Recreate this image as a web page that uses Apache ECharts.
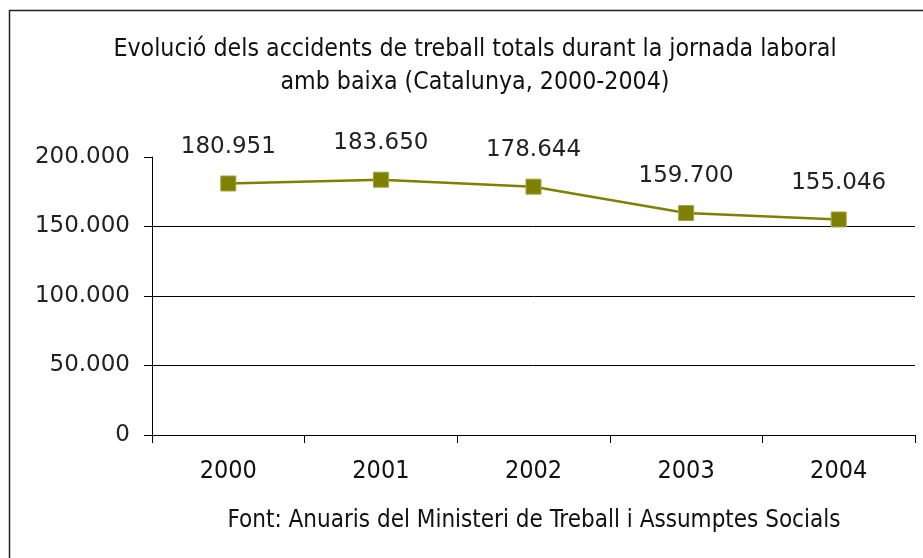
<!DOCTYPE html>
<html>
<head>
<meta charset="utf-8">
<script src="https://cdn.jsdelivr.net/npm/echarts@6/dist/echarts.min.js"></script>
<style>
  html, body { margin: 0; padding: 0; background: #fff; }
  #chart { width: 923px; height: 558px; }
</style>
</head>
<body>
<div id="chart"></div>
<script>
var anys = ["2000", "2001", "2002", "2003", "2004"];
var accidents = [180951, 183650, 178644, 159700, 155046];
var titol = "Evolució dels accidents de treball totals durant la jornada laboral\namb baixa (Catalunya, 2000-2004)";
var font = "Font: Anuaris del Ministeri de Treball i Assumptes Socials";

var estret = "'DejaVu Sans Condensed', Roboto, sans-serif";

// format amb punt de milers
function milers(v) {
  return String(v).replace(/\B(?=(\d{3})+(?!\d))/g, ".");
}

var myChart = echarts.init(document.getElementById("chart"));
myChart.setOption({
  animation: false,
  backgroundColor: "#fff",
  title: {
    text: titol,
    left: 470,
    top: 28,
    textAlign: "center",
    textStyle: {
      fontFamily: estret,
      fontSize: 24.7,
      fontWeight: "normal",
      color: "#111",
      lineHeight: 33
    }
  },
  graphic: [
    {
      type: "rect",
      shape: { x: 9.5, y: 10.5, width: 940, height: 600 },
      style: { fill: "none", stroke: "#222", lineWidth: 1.5 },
      silent: true
    },
    {
      type: "text",
      x: 534,
      y: 521,
      style: {
        text: font,
        fontFamily: estret,
        fontSize: 24,
        fill: "#111",
        align: "center",
        verticalAlign: "middle"
      }
    }
  ],
  grid: {
    left: 152,
    right: 8,
    top: 157,
    bottom: 123
  },
  xAxis: {
    type: "category",
    data: anys,
    boundaryGap: true,
    axisLine: { lineStyle: { color: "#000", width: 1 } },
    axisTick: { show: true, length: 8, interval: 0, lineStyle: { color: "#000" } },
    axisLabel: {
      margin: 24,
      fontFamily: estret,
      fontSize: 25,
      color: "#111"
    }
  },
  yAxis: {
    type: "value",
    min: 0,
    max: 200000,
    interval: 50000,
    axisLine: { show: true, lineStyle: { color: "#000", width: 1 } },
    axisTick: { show: true, length: 8, lineStyle: { color: "#000" } },
    axisLabel: {
      margin: 22,
      fontFamily: "DejaVu Sans",
      fontSize: 23,
      color: "#222",
      formatter: function (v) { return milers(v); }
    },
    splitLine: {
      show: true,
      lineStyle: { color: ["#000", "#000", "#000", "#000", "rgba(0,0,0,0)"], width: 1 }
    }
  },
  series: [
    {
      type: "line",
      data: accidents,
      symbol: "rect",
      symbolSize: 15,
      lineStyle: { color: "#808000", width: 2.5 },
      itemStyle: { color: "#808000", borderColor: "#a3a340", borderWidth: 1 },
      label: {
        show: true,
        position: "top",
        distance: 17,
        fontFamily: "DejaVu Sans",
        fontSize: 23,
        color: "#222",
        formatter: function (p) { return milers(p.value); }
      }
    }
  ]
});
</script>
</body>
</html>
